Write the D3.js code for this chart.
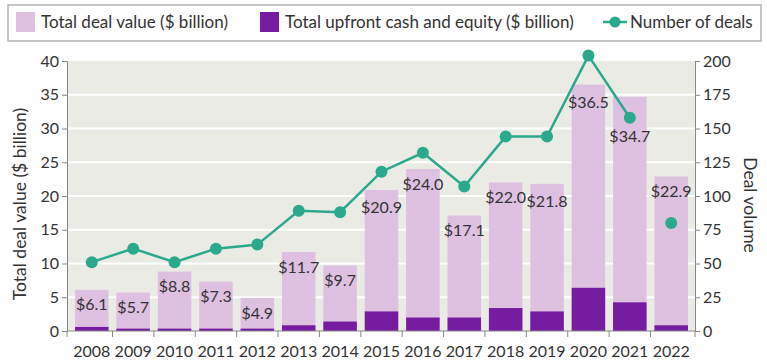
<!DOCTYPE html>
<html>
<head>
<meta charset="utf-8">
<script src="https://cdn.jsdelivr.net/npm/d3@7"></script>
<style>
  body { margin: 0; background: #fff; }
  svg text { font-family: Lato, "Open Sans", sans-serif; fill: #333; }
</style>
</head>
<body>
<div id="chart"></div>
<script>
const years = ['2008', '2009', '2010', '2011', '2012', '2013', '2014', '2015',
    '2016', '2017', '2018', '2019', '2020', '2021', '2022'];
const dealValue = [6.1, 5.7, 8.8, 7.3, 4.9, 11.7, 9.7, 20.9, 24.0, 17.1, 22.0, 21.8, 36.5, 34.7, 22.9];
const upfrontValue = [0.6, 0.35, 0.35, 0.35, 0.35, 0.85, 1.4, 2.9, 2.0, 2.0, 3.4, 2.9, 6.4, 4.25, 0.85];
const dealCount = [51, 61, 51, 61, 64, 89, 88, 118, 132, 107, 144, 144, 204, 158, 80];
const leftTicks = [0, 5, 10, 15, 20, 25, 30, 35, 40];
const rightTicks = [0, 25, 50, 75, 100, 125, 150, 175, 200];

const width = 767, height = 361;
const margin = { top: 61, right: 72, bottom: 30, left: 68 };
const lightPurple = '#dec0e1';
const darkPurple = '#761ca0';
const teal = '#2aa98c';

const data = years.map((y, i) => ({
    year: y, total: dealValue[i], upfront: upfrontValue[i], count: dealCount[i]
}));

const svg = d3.select('#chart').append('svg')
    .attr('width', width)
    .attr('height', height);

const x = d3.scaleBand()
    .domain(years)
    .range([margin.left, width - margin.right])
    .paddingInner(0.19)
    .paddingOuter(0.17);

const y = d3.scaleLinear().domain([0, 40]).range([height - margin.bottom, margin.top]);
const y2 = d3.scaleLinear().domain([0, 200]).range([height - margin.bottom, margin.top]);

// plot background + white gridlines
svg.append('rect')
    .attr('x', margin.left)
    .attr('y', margin.top)
    .attr('width', width - margin.left - margin.right)
    .attr('height', height - margin.top - margin.bottom)
    .attr('fill', '#ebebe6');

svg.append('g')
    .selectAll('line')
    .data(leftTicks.slice(1, -1))
    .join('line')
    .attr('x1', margin.left)
    .attr('x2', width - margin.right)
    .attr('y1', d => y(d))
    .attr('y2', d => y(d))
    .attr('stroke', '#fff')
    .attr('stroke-width', 2);

// bars
svg.append('g')
    .selectAll('rect')
    .data(data)
    .join('rect')
    .attr('x', d => x(d.year))
    .attr('width', x.bandwidth())
    .attr('y', d => y(d.total))
    .attr('height', d => y(0) - y(d.total))
    .attr('fill', lightPurple);

svg.append('g')
    .selectAll('rect')
    .data(data)
    .join('rect')
    .attr('x', d => x(d.year))
    .attr('width', x.bandwidth())
    .attr('y', d => y(d.upfront))
    .attr('height', d => y(0) - y(d.upfront))
    .attr('fill', darkPurple);

// value labels, pushed lower where the line runs through
const labelDrop = { '2015': 17, '2019': 18, '2020': 18, '2021': 40 };
svg.append('g')
    .selectAll('text')
    .data(data)
    .join('text')
    .attr('x', d => x(d.year) + x.bandwidth() / 2)
    .attr('y', d => y(d.total) + (labelDrop[d.year] || 15))
    .attr('dy', '0.35em')
    .attr('text-anchor', 'middle')
    .style('font-size', '16px')
    .text(d => '$' + d.total.toFixed(1));

// axes
const axisColor = '#888';
const leftAxis = svg.append('g')
    .attr('transform', `translate(${margin.left - 1},0)`)
    .call(d3.axisLeft(y).tickValues(leftTicks).tickSize(5).tickPadding(3));
const rightAxis = svg.append('g')
    .attr('transform', `translate(${width - margin.right},0)`)
    .call(d3.axisRight(y2).tickValues(rightTicks).tickSize(5).tickPadding(3));

[leftAxis, rightAxis].forEach(a => {
    a.select('.domain').attr('stroke', axisColor);
    a.selectAll('.tick line').attr('stroke', axisColor);
    a.selectAll('.tick text').style('font-size', '16px').attr('fill', '#333');
});

// x axis: baseline, ticks between bars, year labels
const gap = x.step() - x.bandwidth();
const tickXs = [margin.left - 1].concat(years.slice(1).map(yr => x(yr) - gap / 2), [width - margin.right]);
const xAxis = svg.append('g');
xAxis.append('line')
    .attr('x1', margin.left - 1)
    .attr('x2', width - margin.right)
    .attr('y1', y(0))
    .attr('y2', y(0))
    .attr('stroke', axisColor);
xAxis.selectAll('.xt')
    .data(tickXs)
    .join('line')
    .attr('class', 'xt')
    .attr('x1', d => d)
    .attr('x2', d => d)
    .attr('y1', y(0))
    .attr('y2', y(0) + 6)
    .attr('stroke', axisColor);
xAxis.selectAll('text')
    .data(years)
    .join('text')
    .attr('x', d => x(d) + x.bandwidth() / 2)
    .attr('y', y(0) + 20)
    .attr('dy', '0.35em')
    .attr('text-anchor', 'middle')
    .style('font-size', '16px')
    .text(d => d);

// axis titles
svg.append('text')
    .attr('transform', `translate(20,${204}) rotate(-90)`)
    .attr('text-anchor', 'middle')
    .attr('dy', '0.35em')
    .style('font-size', '17.5px')
    .text('Total deal value ($ billion)');

svg.append('text')
    .attr('transform', `translate(750,${205}) rotate(90)`)
    .attr('text-anchor', 'middle')
    .attr('dy', '0.35em')
    .style('font-size', '17.5px')
    .text('Deal volume');

// deal count line; 2022 shown as a standalone point
const line = d3.line()
    .defined(d => d.year !== '2022')
    .x(d => x(d.year) + x.bandwidth() / 2)
    .y(d => y2(d.count));

svg.append('path')
    .datum(data)
    .attr('d', line)
    .attr('fill', 'none')
    .attr('stroke', teal)
    .attr('stroke-width', 2.5);

svg.append('g')
    .selectAll('circle')
    .data(data)
    .join('circle')
    .attr('cx', d => x(d.year) + x.bandwidth() / 2)
    .attr('cy', d => y2(d.count))
    .attr('r', 6)
    .attr('fill', teal);

// legend
const legend = svg.append('g');
legend.append('rect')
    .attr('x', 8)
    .attr('y', 5)
    .attr('width', 753)
    .attr('height', 36)
    .attr('fill', '#fff')
    .attr('stroke', '#b5b5b5')
    .attr('stroke-width', 1.5);

const legendY = 22;
legend.append('rect').attr('x', 16).attr('y', legendY - 10).attr('width', 19).attr('height', 20).attr('fill', lightPurple);
legend.append('text').attr('x', 41).attr('y', legendY).attr('dy', '0.35em')
    .style('font-size', '17px').text('Total deal value ($ billion)');
legend.append('rect').attr('x', 260).attr('y', legendY - 10).attr('width', 19).attr('height', 20).attr('fill', darkPurple);
legend.append('text').attr('x', 285).attr('y', legendY).attr('dy', '0.35em')
    .style('font-size', '17px').text('Total upfront cash and equity ($ billion)');
legend.append('line').attr('x1', 603).attr('x2', 627).attr('y1', legendY).attr('y2', legendY)
    .attr('stroke', teal).attr('stroke-width', 2.5);
legend.append('circle').attr('cx', 615).attr('cy', legendY).attr('r', 5.5).attr('fill', teal);
legend.append('text').attr('x', 630).attr('y', legendY).attr('dy', '0.35em')
    .style('font-size', '17px').text('Number of deals');
</script>
</body>
</html>
